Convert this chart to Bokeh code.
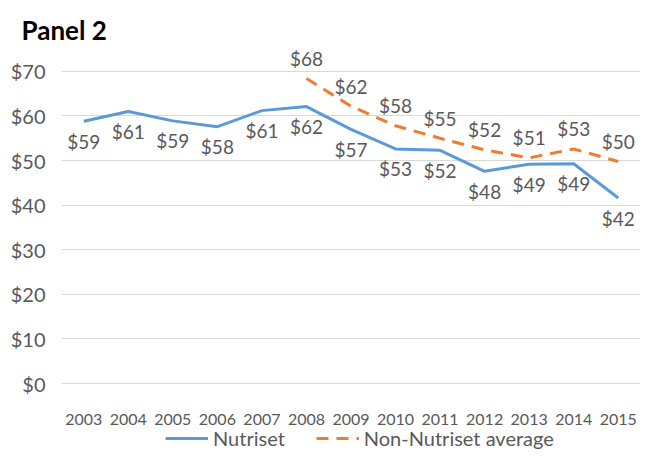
from bokeh.plotting import figure
from bokeh.layouts import column
from bokeh.models import ColumnDataSource, FactorRange, Range1d, FixedTicker, NumeralTickFormatter, Legend, LegendItem
from bokeh.core.properties import value
from bokeh.embed import file_html
from bokeh.resources import INLINE

years = [str(y) for y in range(2003, 2016)]
nutriset = [58.8, 61.0, 58.9, 57.6, 61.2, 62.1, 57.0, 52.6, 52.3, 47.6, 49.2, 49.3, 41.6]
nutriset_labels = ["$59", "$61", "$59", "$58", "$61", "$62", "$57", "$53", "$52", "$48", "$49", "$49", "$42"]
non_years = [str(y) for y in range(2008, 2016)]
non_nutriset = [68.4, 62.2, 57.8, 55.0, 52.4, 50.6, 52.6, 49.8]
non_labels = ["$68", "$62", "$58", "$55", "$52", "$51", "$53", "$50"]
y_ticks = [0, 10, 20, 30, 40, 50, 60, 70]
series_names = ["Nutriset", "Non-Nutriset average"]

FONT = "Lato"
GRAY = "#595959"
BLUE = "#5B9BD5"
ORANGE = "#ED7D31"
DASH = "12 8"

p = figure(width=640, height=427, output_backend="svg", toolbar_location=None,
           x_range=FactorRange(*years), y_range=Range1d(-3.34, 75.8),
           min_border_left=61, min_border_right=0, min_border_top=45, min_border_bottom=27,
           title="Panel 2")
p.outline_line_color = None
p.background_fill_color = "white"
p.border_fill_color = "white"
p.title.text_font = FONT
p.title.text_font_size = "26px"
p.title.text_font_style = "bold"
p.title.text_color = "black"
p.title.offset = -40
p.title.standoff = 0

p.xgrid.grid_line_color = None
p.ygrid.grid_line_color = "#d9d9d9"
p.ygrid.grid_line_width = 1
p.yaxis.ticker = FixedTicker(ticks=y_ticks)
p.yaxis.formatter = NumeralTickFormatter(format="$0")
for ax in (p.xaxis, p.yaxis):
    ax.axis_line_color = None
    ax.major_tick_line_color = None
    ax.minor_tick_line_color = None
    ax.major_label_text_font = FONT
    ax.major_label_text_color = GRAY
p.yaxis.major_label_text_font_size = "20px"
p.yaxis.major_label_standoff = 10
p.xaxis.major_label_text_font_size = "16px"
p.xaxis.major_label_standoff = 9

src_n = ColumnDataSource(dict(x=years, y=nutriset, t=nutriset_labels))
src_o = ColumnDataSource(dict(x=non_years, y=non_nutriset, t=non_labels))

p.line("x", "y", source=src_n, line_color=BLUE, line_width=3)
p.line("x", "y", source=src_o, line_color=ORANGE, line_width=3, line_dash=DASH)

p.text("x", "y", text="t", source=src_n, text_font=value(FONT), text_font_size="19px",
       text_color=GRAY, text_align="center", text_baseline="middle", y_offset=20)
p.text("x", "y", text="t", source=src_o, text_font=value(FONT), text_font_size="19px",
       text_color=GRAY, text_align="center", text_baseline="middle", y_offset=-20)

# legend strip below the chart (its lines lie outside its visible range)
lg = figure(width=640, height=26, output_backend="svg", toolbar_location=None,
            x_range=Range1d(0, 1), y_range=Range1d(0, 1),
            x_axis_type=None, y_axis_type=None,
            min_border_left=0, min_border_right=0, min_border_top=0, min_border_bottom=0)
lg.outline_line_color = None
lg.grid.grid_line_color = None
l1 = lg.line(x=[-5, -4], y=[-5, -5], line_color=BLUE, line_width=3)
l2 = lg.line(x=[-5, -4], y=[-5, -5], line_color=ORANGE, line_width=3, line_dash=DASH)
legend = Legend(items=[LegendItem(label=series_names[0], renderers=[l1]),
                       LegendItem(label=series_names[1], renderers=[l2])],
                orientation="horizontal", location=(104, 3),
                label_text_font=FONT, label_text_font_size="20px", label_text_color=GRAY,
                glyph_width=43, glyph_height=20, label_height=20, label_standoff=5,
                spacing=31, padding=0, margin=0, border_line_color=None,
                background_fill_alpha=0)
lg.add_layout(legend)

layout = column(p, lg, spacing=0)
open("out.html", "w").write(file_html(layout, INLINE))
